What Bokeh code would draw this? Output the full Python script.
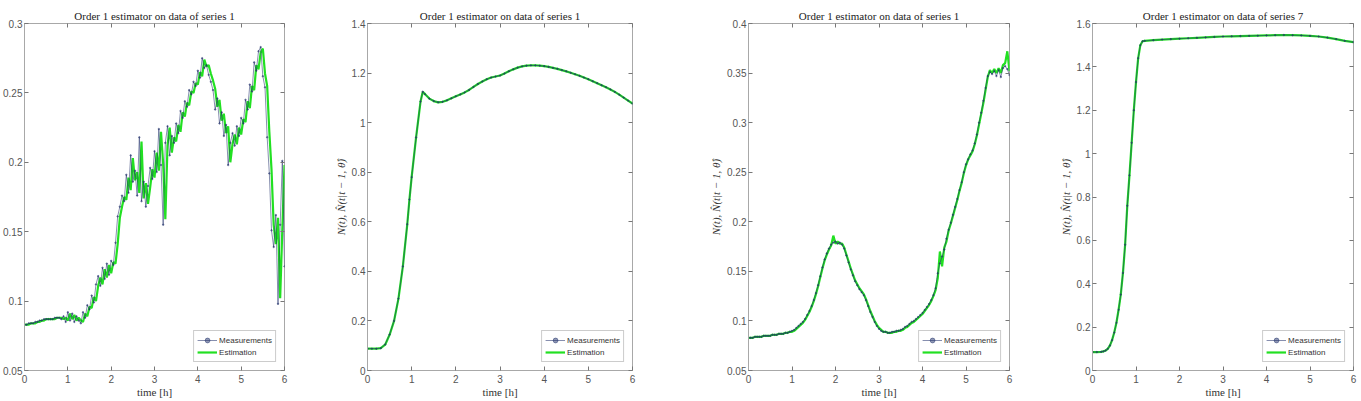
from bokeh.plotting import figure
from bokeh.layouts import row
from bokeh.models import (Legend, LegendItem, Range1d, FixedTicker, LinearAxis,
                          CustomJSTickFormatter, CustomLabelingPolicy)
from bokeh.embed import file_html
from bokeh.resources import INLINE

# ---------------- data ----------------
titles = ["Order 1 estimator on data of series 1",
          "Order 1 estimator on data of series 1",
          "Order 1 estimator on data of series 1",
          "Order 1 estimator on data of series 7"]
x_label = "time [h]"
y_label = "N(t), N\u0302(t|t \u2212 1, \u03b8\u0302)"
x_ticks = [0, 1, 2, 3, 4, 5, 6]
y_ticks = [[0.05, 0.1, 0.15, 0.2, 0.25, 0.3],
           [0, 0.2, 0.4, 0.6, 0.8, 1, 1.2, 1.4],
           [0.05, 0.1, 0.15, 0.2, 0.25, 0.3, 0.35, 0.4],
           [0, 0.2, 0.4, 0.6, 0.8, 1, 1.2, 1.4, 1.6]]
y_ranges = [(0.05, 0.3), (0, 1.4), (0.05, 0.4), (0, 1.6)]
legend_labels = ["Measurements", "Estimation"]

# series 1 (noisy), sampled every 0.05 h from 0 to 6
time_noisy = [round(i * 0.05, 2) for i in range(121)]
meas1 = [0.083, 0.083, 0.084, 0.084, 0.084, 0.085, 0.085, 0.086, 0.086, 0.087,
         0.087, 0.087, 0.087, 0.087, 0.088, 0.088, 0.088, 0.087, 0.089, 0.085,
         0.092, 0.086, 0.091, 0.085, 0.089, 0.086, 0.084, 0.092, 0.088, 0.097,
         0.094, 0.104, 0.099, 0.112, 0.118, 0.111, 0.124, 0.116, 0.127, 0.119,
         0.129, 0.126, 0.142, 0.161, 0.168, 0.176, 0.172, 0.191, 0.178, 0.205,
         0.186, 0.194, 0.176, 0.218, 0.172, 0.186, 0.168, 0.183, 0.196, 0.188,
         0.208, 0.193, 0.224, 0.198, 0.155, 0.214, 0.226, 0.205, 0.219, 0.214,
         0.228, 0.221, 0.237, 0.232, 0.244, 0.240, 0.252, 0.249, 0.258, 0.255,
         0.266, 0.261, 0.275, 0.268, 0.270, 0.263, 0.258, 0.252, 0.238, 0.246,
         0.228, 0.236, 0.219, 0.227, 0.198, 0.214, 0.221, 0.212, 0.226, 0.219,
         0.232, 0.228, 0.245, 0.238, 0.256, 0.251, 0.272, 0.266, 0.280, 0.283,
         0.262, 0.254, 0.218, 0.192, 0.151, 0.139, 0.162, 0.098, 0.155, 0.201,
         0.125]
est1 = [0.083, 0.083, 0.083, 0.084, 0.084, 0.084, 0.085, 0.085, 0.086, 0.086,
        0.087, 0.087, 0.087, 0.087, 0.087, 0.088, 0.088, 0.088, 0.087, 0.088,
        0.086, 0.091, 0.087, 0.090, 0.086, 0.088, 0.086, 0.085, 0.091, 0.089,
        0.096, 0.095, 0.103, 0.100, 0.111, 0.117, 0.112, 0.123, 0.117, 0.126,
        0.120, 0.128, 0.127, 0.141, 0.160, 0.168, 0.175, 0.173, 0.189, 0.180,
        0.203, 0.187, 0.193, 0.178, 0.215, 0.174, 0.185, 0.170, 0.182, 0.195,
        0.189, 0.207, 0.194, 0.222, 0.199, 0.159, 0.212, 0.225, 0.207, 0.218,
        0.215, 0.227, 0.222, 0.236, 0.233, 0.243, 0.241, 0.251, 0.250, 0.257,
        0.256, 0.265, 0.262, 0.274, 0.269, 0.270, 0.264, 0.259, 0.253, 0.240,
        0.245, 0.230, 0.235, 0.221, 0.226, 0.200, 0.213, 0.220, 0.213, 0.225,
        0.220, 0.231, 0.229, 0.244, 0.239, 0.255, 0.252, 0.270, 0.267, 0.279,
        0.282, 0.264, 0.255, 0.222, 0.195, 0.155, 0.141, 0.160, 0.102, 0.152,
        0.198]

# series 1, second view (smooth growth curve)
time2 = [0, 0.1, 0.2, 0.3, 0.4, 0.5, 0.6, 0.7, 0.8, 0.9, 0.95, 1.0, 1.1, 1.2,
         1.25, 1.3, 1.4, 1.5, 1.6, 1.7, 1.8, 1.9, 2.0, 2.1, 2.2, 2.3, 2.4,
         2.5, 2.6, 2.7, 2.8, 2.9, 3.0, 3.1, 3.2, 3.3, 3.4, 3.5, 3.6, 3.7, 3.8,
         3.9, 4.0, 4.1, 4.2, 4.3, 4.4, 4.5, 4.6, 4.7, 4.8, 4.9, 5.0, 5.1, 5.2,
         5.3, 5.4, 5.5, 5.6, 5.7, 5.8, 5.9, 6.0]
meas2 = [0.088, 0.088, 0.088, 0.090, 0.105, 0.145, 0.200, 0.290, 0.420, 0.590,
         0.690, 0.780, 0.940, 1.085, 1.125, 1.115, 1.097, 1.087, 1.082, 1.084,
         1.090, 1.098, 1.106, 1.114, 1.122, 1.132, 1.144, 1.156, 1.166, 1.175,
         1.182, 1.186, 1.190, 1.198, 1.207, 1.215, 1.222, 1.227, 1.230, 1.231,
         1.231, 1.230, 1.228, 1.225, 1.221, 1.217, 1.212, 1.207, 1.201, 1.195,
         1.189, 1.182, 1.175, 1.167, 1.159, 1.151, 1.143, 1.134, 1.124, 1.113,
         1.101, 1.089, 1.077]
est2 = [0.088, 0.088, 0.088, 0.090, 0.104, 0.144, 0.199, 0.289, 0.419, 0.589,
        0.690, 0.781, 0.941, 1.084, 1.124, 1.116, 1.097, 1.087, 1.082, 1.084,
        1.090, 1.098, 1.106, 1.114, 1.122, 1.132, 1.144, 1.156, 1.166, 1.175,
        1.182, 1.186, 1.190, 1.198, 1.207, 1.215, 1.222, 1.227, 1.230, 1.231,
        1.231, 1.230, 1.228, 1.225, 1.221, 1.217, 1.212, 1.207, 1.201, 1.195,
        1.189, 1.182, 1.175, 1.167, 1.159, 1.151, 1.143, 1.134, 1.124, 1.113,
        1.101, 1.089, 1.077]

# series 1, third view (two-hump curve), every 0.05 h
meas3 = [0.083, 0.083, 0.083, 0.084, 0.084, 0.084, 0.084, 0.085, 0.085, 0.085,
         0.085, 0.086, 0.086, 0.086, 0.087, 0.087, 0.087, 0.088, 0.088, 0.089,
         0.090, 0.091, 0.093, 0.095, 0.097, 0.099, 0.102, 0.106, 0.110, 0.115,
         0.121, 0.128, 0.136, 0.145, 0.154, 0.162, 0.168, 0.173, 0.177, 0.179,
         0.180, 0.178, 0.179, 0.177, 0.173, 0.166, 0.159, 0.152, 0.146, 0.140,
         0.136, 0.132, 0.129, 0.126, 0.121, 0.115, 0.109, 0.104, 0.099, 0.095,
         0.092, 0.090, 0.089, 0.089, 0.088, 0.088, 0.089, 0.089, 0.090, 0.090,
         0.091, 0.092, 0.094, 0.095, 0.097, 0.099, 0.100, 0.102, 0.104, 0.106,
         0.108, 0.111, 0.114, 0.117, 0.121, 0.126, 0.133, 0.148, 0.158, 0.165,
         0.172, 0.183, 0.192, 0.199, 0.207, 0.215, 0.223, 0.232, 0.240, 0.250,
         0.258, 0.263, 0.268, 0.272, 0.279, 0.288, 0.300, 0.310, 0.322, 0.335,
         0.347, 0.351, 0.349, 0.352, 0.347, 0.353, 0.346, 0.355, 0.357, 0.354,
         0.348]
est3 = [0.083, 0.083, 0.083, 0.084, 0.084, 0.084, 0.084, 0.085, 0.085, 0.085,
        0.085, 0.086, 0.086, 0.086, 0.087, 0.087, 0.087, 0.088, 0.088, 0.089,
        0.089, 0.090, 0.092, 0.094, 0.096, 0.098, 0.101, 0.105, 0.109, 0.114,
        0.120, 0.127, 0.135, 0.144, 0.153, 0.161, 0.167, 0.172, 0.176, 0.186,
        0.178, 0.180, 0.178, 0.178, 0.174, 0.167, 0.160, 0.153, 0.147, 0.141,
        0.137, 0.133, 0.130, 0.127, 0.122, 0.116, 0.110, 0.105, 0.100, 0.096,
        0.093, 0.091, 0.089, 0.089, 0.088, 0.088, 0.088, 0.089, 0.089, 0.090,
        0.090, 0.091, 0.093, 0.094, 0.096, 0.098, 0.099, 0.101, 0.103, 0.105,
        0.107, 0.110, 0.113, 0.116, 0.120, 0.125, 0.131, 0.143, 0.170, 0.155,
        0.174, 0.180, 0.191, 0.198, 0.206, 0.214, 0.222, 0.231, 0.239, 0.249,
        0.257, 0.263, 0.267, 0.271, 0.278, 0.287, 0.298, 0.309, 0.320, 0.333,
        0.346, 0.353, 0.350, 0.354, 0.350, 0.355, 0.350, 0.358, 0.360, 0.372,
        0.352]

# series 7 (growth to plateau)
time4 = [0, 0.1, 0.2, 0.25, 0.3, 0.35, 0.4, 0.45, 0.5, 0.55, 0.6, 0.65, 0.7,
         0.75, 0.8, 0.85, 0.9, 0.95, 1.0, 1.05, 1.1, 1.15, 1.2, 1.4, 1.6, 1.8,
         2.0, 2.2, 2.4, 2.6, 2.8, 3.0, 3.2, 3.4, 3.6, 3.8, 4.0, 4.2, 4.4, 4.6,
         4.8, 5.0, 5.2, 5.4, 5.6, 5.8, 6.0]
meas4 = [0.085, 0.085, 0.086, 0.088, 0.092, 0.100, 0.115, 0.140, 0.175, 0.220,
         0.280, 0.350, 0.450, 0.580, 0.760, 0.900, 1.050, 1.200, 1.330, 1.440,
         1.500, 1.518, 1.520, 1.523, 1.526, 1.528, 1.530, 1.532, 1.534, 1.536,
         1.538, 1.540, 1.541, 1.542, 1.543, 1.544, 1.545, 1.546, 1.547, 1.546,
         1.545, 1.543, 1.540, 1.535, 1.528, 1.520, 1.514]
est4 = [0.085, 0.085, 0.086, 0.088, 0.092, 0.100, 0.115, 0.140, 0.175, 0.220,
        0.280, 0.350, 0.450, 0.580, 0.760, 0.900, 1.050, 1.200, 1.330, 1.440,
        1.500, 1.518, 1.520, 1.523, 1.526, 1.528, 1.530, 1.532, 1.534, 1.536,
        1.538, 1.540, 1.541, 1.542, 1.543, 1.544, 1.545, 1.546, 1.547, 1.546,
        1.545, 1.543, 1.540, 1.535, 1.528, 1.520, 1.514]

# ---------------- styling ----------------
MEAS_COLOR = "#1f2f6a"
EST_COLOR = "#22e022"
AX_COLOR = "#a8a8a8"
TICK_FONT = "Liberation Sans"
SERIF = "Liberation Serif"

fmt = CustomJSTickFormatter(code="return String(Math.round(tick*1000)/1000);")
blank_fmt = CustomJSTickFormatter(code="return '';")
no_labels = CustomLabelingPolicy(code="""
try { for (const i of Array.from(indices)) { indices.unset(i); } } catch (e) {}
return indices;
""")


def panel(title, tm, ym, te, ye, yr, yt, with_ylabel, width, ml, mr):
    p = figure(width=width, height=401, output_backend="svg", toolbar_location=None,
               x_range=Range1d(0, 6), y_range=Range1d(*yr),
               min_border_left=ml, min_border_right=mr,
               min_border_top=23, min_border_bottom=31)
    p.grid.visible = False
    p.outline_line_color = AX_COLOR
    p.background_fill_color = "white"
    p.border_fill_color = "white"

    p.title.text = title
    p.title.align = "center"
    p.title.text_font = SERIF
    p.title.text_font_size = "11px"
    p.title.text_font_style = "normal"
    p.title.text_color = "#222222"
    p.title.standoff = 4

    for ax in (p.xaxis[0], p.yaxis[0]):
        ax.axis_line_color = AX_COLOR
        ax.major_tick_line_color = "#777777"
        ax.major_tick_in = 4
        ax.major_tick_out = 0
        ax.minor_tick_line_color = None
        ax.major_label_text_font = TICK_FONT
        ax.major_label_text_font_size = "10px"
        ax.major_label_text_color = "#555555"
        ax.formatter = fmt
    p.xaxis[0].ticker = FixedTicker(ticks=x_ticks)
    p.yaxis[0].ticker = FixedTicker(ticks=yt)
    p.xaxis[0].major_label_standoff = 4
    p.yaxis[0].major_label_standoff = 2

    p.xaxis[0].axis_label = x_label
    p.xaxis[0].axis_label_text_font = SERIF
    p.xaxis[0].axis_label_text_font_size = "11px"
    p.xaxis[0].axis_label_text_font_style = "normal"
    p.xaxis[0].axis_label_text_color = "#333333"
    p.xaxis[0].axis_label_standoff = 0
    if with_ylabel:
        p.yaxis[0].axis_label = y_label
        p.yaxis[0].axis_label_text_font = SERIF
        p.yaxis[0].axis_label_text_font_size = "11px"
        p.yaxis[0].axis_label_text_font_style = "italic"
        p.yaxis[0].axis_label_text_color = "#333333"
        p.yaxis[0].axis_label_standoff = 2

    # mirrored inward ticks on the top and right edges (box style)
    for loc, tk in (("above", x_ticks), ("right", yt)):
        ax = LinearAxis(ticker=FixedTicker(ticks=tk), formatter=blank_fmt,
                        major_label_policy=no_labels)
        ax.axis_line_color = None
        ax.major_tick_line_color = "#777777"
        ax.major_tick_in = 4
        ax.major_tick_out = 0
        ax.minor_tick_line_color = None
        ax.major_label_standoff = 0
        p.add_layout(ax, loc)

    r_est = p.line(te, ye, line_color=EST_COLOR, line_width=2.2)
    r_ml = p.line(tm, ym, line_color=MEAS_COLOR, line_width=0.9, line_alpha=0.6)
    r_ms = p.scatter(tm, ym, size=1.5, color=MEAS_COLOR, alpha=0.5)

    leg = Legend(items=[LegendItem(label=legend_labels[0], renderers=[r_ml, r_ms]),
                        LegendItem(label=legend_labels[1], renderers=[r_est])],
                 location="bottom_right")
    leg.label_text_font = TICK_FONT
    leg.label_text_font_size = "8px"
    leg.label_text_color = "#333333"
    leg.border_line_color = "#999999"
    leg.background_fill_alpha = 1
    leg.padding = 3
    leg.spacing = 0
    leg.margin = 8
    leg.glyph_width = 20
    leg.glyph_height = 12
    leg.label_height = 12
    leg.label_standoff = 2
    p.add_layout(leg)
    return p


p1 = panel(titles[0], time_noisy, meas1, time_noisy, est1, y_ranges[0], y_ticks[0],
           False, 331, 20, 47)
p2 = panel(titles[1], time2, meas2, time2, est2, y_ranges[1], y_ticks[1],
           True, 349, 28, 48)
p3 = panel(titles[2], time_noisy, meas3, time_noisy, est3, y_ranges[2], y_ticks[2],
           True, 340, 68, 11)
p4 = panel(titles[3], time4, meas4, time4, est4, y_ranges[3], y_ticks[3],
           True, 341, 72, 8)

layout = row(p1, p2, p3, p4, spacing=0)
open("out.html", "w").write(file_html(layout, INLINE))
